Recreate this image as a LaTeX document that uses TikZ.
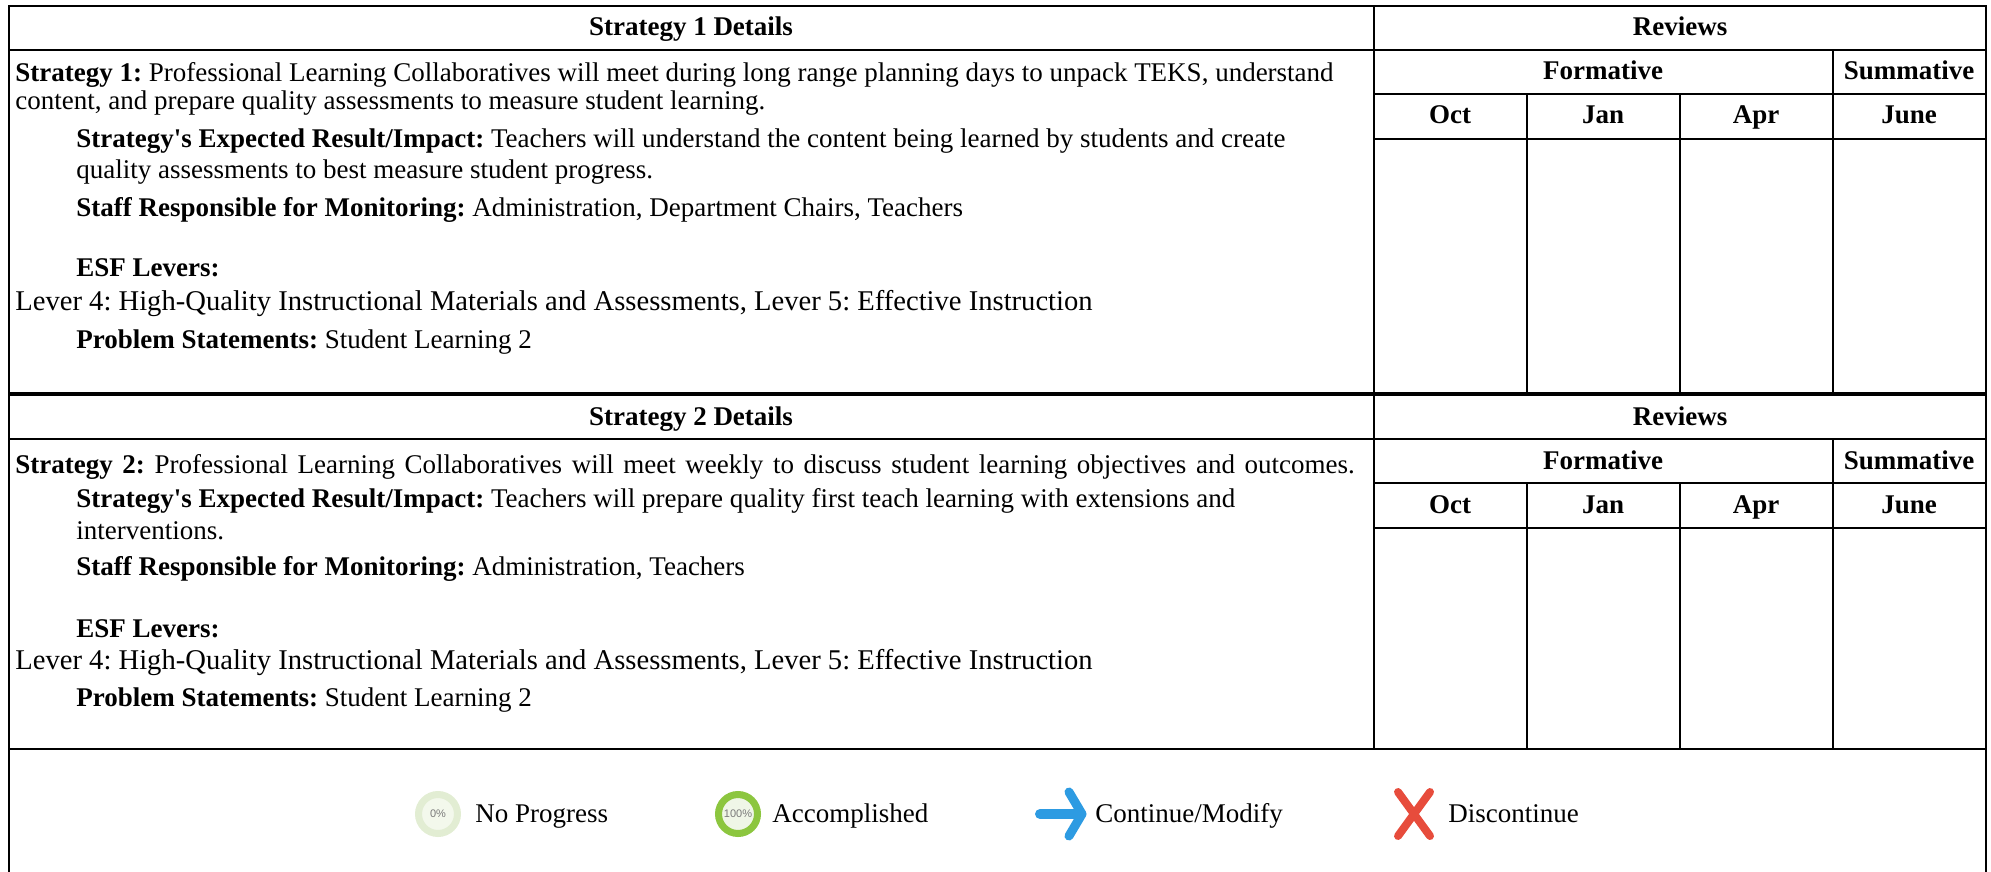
\documentclass[tikz,border=0pt]{standalone}
\usepackage{fontspec}
\setmainfont{Liberation Serif}
\newfontfamily\iconfont{Liberation Sans}
\usepackage{tikz}
\usetikzlibrary{calc}
\definecolor{npring}{HTML}{E2EDD3}
\definecolor{npfill}{HTML}{F3F8EC}
\definecolor{acring}{HTML}{8CC63F}
\definecolor{acfill}{HTML}{EFF6E7}
\definecolor{icongray}{HTML}{7A7A7A}
\definecolor{cmblue}{HTML}{2D9BE2}
\definecolor{dcred}{HTML}{E74C3C}
\frenchspacing

\begin{document}
\begin{tikzpicture}[x=0.5pt, y=-0.5pt, font=\fontsize{13.5}{14}\selectfont,
    rule/.style={line width=1pt},
    headtxt/.style={anchor=base, inner sep=0, font=\fontsize{13.5}{14}\selectfont\bfseries},
    bodytxt/.style={anchor=base west, inner sep=0},
    levertxt/.style={bodytxt, font=\fontsize{14.3}{15}\selectfont},
    ring/.style={circle, minimum size=19.5pt, inner sep=0, line width=3.5pt, text=icongray, font=\iconfont\fontsize{5.5}{6}\selectfont}]
\useasboundingbox (0,0) rectangle (1991,872);
    % the two strategy tables
\foreach \t/\b/\n in {6/393/1, 395/749/2} {
    \draw[rule] (9,\t) rectangle (1986,\b);
    \draw[rule] (9,\t+44) -- (1986,\t+44);
    \draw[rule] (1374,\t) -- (1374,\b);
    \draw[rule] (1374,\t+88) -- (1986,\t+88);
    \draw[rule] (1374,\t+133) -- (1986,\t+133);
    \draw[rule] (1527,\t+88) -- (1527,\b);
    \draw[rule] (1680,\t+88) -- (1680,\b);
    \draw[rule] (1833,\t+44) -- (1833,\b);
    \node[headtxt] (hd\n) at (691,\t+30) {Strategy \n\ Details};
    \node[headtxt] (rv\n) at (1680,\t+30) {Reviews};
    \node[headtxt] (fm\n) at (1603,\t+74) {Formative};
    \node[headtxt] (sm\n) at (1909,\t+74) {Summative};
    \foreach \m/\xc in {Oct/1450, Jan/1603, Apr/1756, June/1909}
        \node[headtxt] (\m\n) at (\xc,\t+118) {\m};
}
    % strategy 1
\node[bodytxt] (s1a) at (15,82) {\textbf{Strategy 1:} Professional Learning Collaboratives will meet during long range planning days to unpack TEKS, understand};
\node[bodytxt] (s1b) at (15,110) {content, and prepare quality assessments to measure student learning.};
\node[bodytxt] (r1a) at (76,148) {\textbf{Strategy\textquotesingle s Expected Result/Impact:} Teachers will understand the content being learned by students and create};
\node[bodytxt] (r1b) at (76,178) {quality assessments to best measure student progress.};
\node[bodytxt] (m1) at (76,216) {\textbf{Staff Responsible for Monitoring:} Administration, Department Chairs, Teachers};
\node[bodytxt] (e1) at (76,276) {\textbf{ESF Levers:}};
\node[levertxt] (l1) at (15,310) {Lever 4: High-Quality Instructional Materials and Assessments, Lever 5: Effective Instruction};
\node[bodytxt] (p1) at (76,348) {\textbf{Problem Statements:} Student Learning 2};
    % strategy 2
\node[bodytxt] (s2) at (15,473) {\spaceskip=4.8pt\textbf{Strategy 2:} Professional Learning Collaboratives will meet weekly to discuss student learning objectives and outcomes.};
\node[bodytxt] (r2a) at (76,507) {\textbf{Strategy\textquotesingle s Expected Result/Impact:} Teachers will prepare quality first teach learning with extensions and};
\node[bodytxt] (r2b) at (76,539) {interventions.};
\node[bodytxt] (m2) at (76,575) {\textbf{Staff Responsible for Monitoring:} Administration, Teachers};
\node[bodytxt] (e2) at (76,637) {\textbf{ESF Levers:}};
\node[levertxt] (l2) at (15,669) {Lever 4: High-Quality Instructional Materials and Assessments, Lever 5: Effective Instruction};
\node[bodytxt] (p2) at (76,706) {\textbf{Problem Statements:} Student Learning 2};
    % legend
\draw[rule] (9,749) -- (9,872);
\draw[rule] (1986,749) -- (1986,872);
\node[ring, draw=npring, fill=npfill] (npicon) at (438,814) {0\%};
\node[bodytxt] (nptxt) at (475,822) {No Progress};
\node[ring, draw=acring, fill=acfill] (acicon) at (738,814) {100\%};
\node[bodytxt] (actxt) at (772,822) {Accomplished};
\draw[cmblue, line width=5pt, line cap=round] (1040,814) -- (1076,814);
\draw[cmblue, line width=4.5pt, line cap=round, line join=round] (1069,792) -- (1082,814) -- (1069,836);
\node[bodytxt] (cmtxt) at (1095,822) {Continue/Modify};
\draw[dcred, line width=4pt, line cap=round] (1398,792) -- (1430,836) (1430,792) -- (1398,836);
\node[bodytxt] (dctxt) at (1448,822) {Discontinue};
\end{tikzpicture}
\end{document}
